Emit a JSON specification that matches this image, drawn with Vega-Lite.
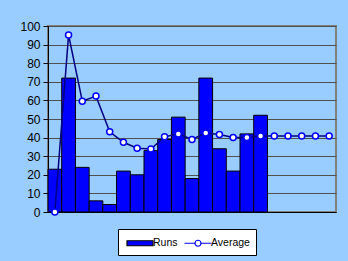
{
  "$schema": "https://vega.github.io/schema/vega-lite/v6.json",
  "width": 288,
  "height": 186,
  "autosize": {"type": "none"},
  "padding": {"left": 48, "top": 26, "right": 12, "bottom": 49},
  "background": "#99CCFF",
  "config": {
    "view": {"fill": "#C0C0C0", "stroke": "#808080", "strokeWidth": 2},
    "font": "Liberation Sans",
    "axis": {"labelFont": "Liberation Sans", "labelFontSize": 12, "labelColor": "#000000"},
    "axisY": {
      "title": null,
      "grid": true,
      "gridColor": "#505050",
      "gridWidth": 1,
      "gridOpacity": 1,
      "domainColor": "#000000",
      "tickColor": "#000000",
      "tickSize": 5,
      "labelPadding": 3
    },
    "axisX": {"labels": false, "ticks": false, "title": null, "domainColor": "#000000", "domainWidth": 1, "grid": false},
    "legend": {
      "title": null,
      "orient": "none",
      "legendX": 70,
      "legendY": 203,
      "direction": "horizontal",
      "fillColor": "#FFFFFF",
      "strokeColor": "#000000",
      "padding": 6,
      "labelFont": "Liberation Sans",
      "labelFontSize": 10.5,
      "labelColor": "#000000",
      "labelOffset": 5,
      "symbolOffset": 8,
      "columnPadding": 4,
      "symbolSize": 196,
      "symbolOpacity": 1,
      "symbolStrokeWidth": 1.2
    }
  },
  "datasets": {
    "innings": [
      {"slot": 1, "runs": 23, "average": 0},
      {"slot": 2, "runs": 72, "average": 95.2},
      {"slot": 3, "runs": 24, "average": 59.6},
      {"slot": 4, "runs": 6, "average": 62.3},
      {"slot": 5, "runs": 4, "average": 43.1},
      {"slot": 6, "runs": 22, "average": 37.5},
      {"slot": 7, "runs": 20, "average": 34.3},
      {"slot": 8, "runs": 33, "average": 33.9},
      {"slot": 9, "runs": 39, "average": 40.4},
      {"slot": 10, "runs": 51, "average": 42.0},
      {"slot": 11, "runs": 18, "average": 39.0},
      {"slot": 12, "runs": 72, "average": 42.5},
      {"slot": 13, "runs": 34, "average": 41.7},
      {"slot": 14, "runs": 22, "average": 40.0},
      {"slot": 15, "runs": 42, "average": 40.0},
      {"slot": 16, "runs": 52, "average": 40.9},
      {"slot": 17, "runs": null, "average": 40.9},
      {"slot": 18, "runs": null, "average": 40.9},
      {"slot": 19, "runs": null, "average": 40.9},
      {"slot": 20, "runs": null, "average": 40.9},
      {"slot": 21, "runs": null, "average": 40.9}
    ],
    "series": [
      {"series": "Runs"},
      {"series": "Average"}
    ]
  },
  "layer": [
    {
      "data": {"name": "innings"},
      "mark": {"type": "bar", "fill": "#0000FF", "stroke": "#000000", "strokeWidth": 1},
      "encoding": {
        "x": {"field": "slot", "type": "ordinal", "scale": {"paddingInner": 0, "paddingOuter": 0}},
        "y": {
          "field": "runs",
          "type": "quantitative",
          "scale": {"domain": [0, 100], "nice": false},
          "axis": {"values": [0, 10, 20, 30, 40, 50, 60, 70, 80, 90, 100], "tickCount": 11}
        }
      }
    },
    {
      "data": {"name": "innings"},
      "mark": {"type": "line", "strokeWidth": 1.5, "stroke": "#000080"},
      "encoding": {
        "x": {"field": "slot", "type": "ordinal"},
        "y": {"field": "average", "type": "quantitative", "axis": {"values": [0, 10, 20, 30, 40, 50, 60, 70, 80, 90, 100], "tickCount": 11}}
      }
    },
    {
      "data": {"name": "innings"},
      "mark": {"type": "point", "shape": "circle", "filled": true, "fill": "#FFFFFF", "stroke": "#0000FF", "strokeWidth": 1.5, "size": 36, "opacity": 1},
      "encoding": {
        "x": {"field": "slot", "type": "ordinal"},
        "y": {"field": "average", "type": "quantitative", "axis": {"values": [0, 10, 20, 30, 40, 50, 60, 70, 80, 90, 100], "tickCount": 11}}
      }
    },
    {
      "data": {"name": "series"},
      "mark": {"type": "point", "opacity": 0, "strokeWidth": 1.2},
      "encoding": {
        "shape": {
          "field": "series",
          "type": "nominal",
          "scale": {"domain": ["Runs", "Average"], "range": ["M-1.857,-0.357H1.857V0.357H-1.857Z", "M-1.93,0H-0.43M0.43,0H1.93M0.43,0A0.43,0.43 0 1 1 -0.43,0A0.43,0.43 0 1 1 0.43,0Z"]}
        },
        "fill": {
          "field": "series",
          "type": "nominal",
          "scale": {"domain": ["Runs", "Average"], "range": ["#0000FF", "#FFFFFF"]}
        },
        "stroke": {
          "field": "series",
          "type": "nominal",
          "scale": {"domain": ["Runs", "Average"], "range": ["#000000", "#0000FF"]}
        }
      }
    }
  ]
}
